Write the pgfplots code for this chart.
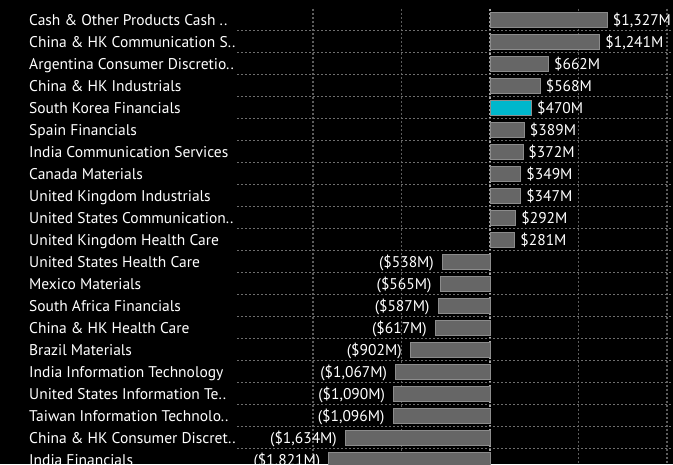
\documentclass[border=0pt]{standalone}
\usepackage{pgfplots}
\pgfplotsset{compat=1.18}
\usepackage{fontspec}
\setmainfont{PT Sans}
\definecolor{barfill}{HTML}{666666}
\definecolor{baredge}{HTML}{8C8C8C}
\definecolor{hl}{HTML}{00B7CC}
\definecolor{gridc}{HTML}{5C5C5C}
\definecolor{hgridc}{HTML}{6E6E6E}
\definecolor{zeroc}{HTML}{A8A8A8}
\newcommand\lblfont{\fontsize{15.5}{18}\selectfont}
\tikzset{hg/.style={hgridc, dash pattern=on 2pt off 2pt, line width=1.8pt}}
\begin{document}
\lblfont
\begin{tikzpicture}[x=1pt,y=1pt]
\fill[black] (0,0) rectangle (673,-464);
\path[use as bounding box] (0,0) rectangle (673,-464);
\begin{axis}[
  at={(237pt,-470.5pt)}, anchor=south west,
  scale only axis, width=436pt, height=462pt,
  xmin=-2859, xmax=2068, ymin=-0.5, ymax=20.5, y dir=reverse,
  xbar, bar width=15pt, bar shift=0pt,
  axis line style={draw=none}, major tick length=0pt, minor tick length=0pt,
  xtick={-2000,-1000,1000,2000}, xticklabels={},
  xmajorgrids, major grid style={gridc, dash pattern=on 2pt off 2pt, line width=1.2pt},
  extra x ticks={0}, extra x tick labels={},
  extra x tick style={major grid style={zeroc, dash pattern=on 2pt off 2pt, line width=1.2pt}},
  ytick={0,1,2,3,4,5,6,7,8,9,10,11,12,13,14,15,16,17,18,19,20},
  yticklabels={Cash \& Other Products Cash ..,China \& HK Communication S..,Argentina Consumer Discretio..,China \& HK Industrials,South Korea Financials,Spain Financials,India Communication Services,Canada Materials,United Kingdom Industrials,United States Communication..,United Kingdom Health Care,United States Health Care,Mexico Materials,South Africa Financials,China \& HK Health Care,Brazil Materials,India Information Technology,United States Information Te..,Taiwan Information Technolo..,China \& HK Consumer Discret..,India Financials},
  yticklabel style={anchor=west, inner sep=0pt, xshift=-208pt, yshift=-0.5pt, text height=11pt, text depth=0pt, text=white, font=\lblfont},
  point meta=explicit symbolic,
  nodes near coords,
  every node near coord/.append style={text=white, font=\lblfont, text height=11pt, text depth=0pt, yshift=-0.5pt},
]
\draw[hg] (axis cs:-2859,0.5) -- (axis cs:2068,0.5);
\draw[hg] (axis cs:-2859,1.5) -- (axis cs:2068,1.5);
\draw[hg] (axis cs:-2859,2.5) -- (axis cs:2068,2.5);
\draw[hg] (axis cs:-2859,3.5) -- (axis cs:2068,3.5);
\draw[hg] (axis cs:-2859,4.5) -- (axis cs:2068,4.5);
\draw[hg] (axis cs:-2859,5.5) -- (axis cs:2068,5.5);
\draw[hg] (axis cs:-2859,6.5) -- (axis cs:2068,6.5);
\draw[hg] (axis cs:-2859,7.5) -- (axis cs:2068,7.5);
\draw[hg] (axis cs:-2859,8.5) -- (axis cs:2068,8.5);
\draw[hg] (axis cs:-2859,9.5) -- (axis cs:2068,9.5);
\draw[hg] (axis cs:-2859,10.5) -- (axis cs:2068,10.5);
\draw[hg] (axis cs:-2859,11.5) -- (axis cs:2068,11.5);
\draw[hg] (axis cs:-2859,12.5) -- (axis cs:2068,12.5);
\draw[hg] (axis cs:-2859,13.5) -- (axis cs:2068,13.5);
\draw[hg] (axis cs:-2859,14.5) -- (axis cs:2068,14.5);
\draw[hg] (axis cs:-2859,15.5) -- (axis cs:2068,15.5);
\draw[hg] (axis cs:-2859,16.5) -- (axis cs:2068,16.5);
\draw[hg] (axis cs:-2859,17.5) -- (axis cs:2068,17.5);
\draw[hg] (axis cs:-2859,18.5) -- (axis cs:2068,18.5);
\draw[hg] (axis cs:-2859,19.5) -- (axis cs:2068,19.5);
\addplot[xbar, bar shift=0pt, fill=barfill, draw=baredge, line width=0.8pt,
  every node near coord/.append style={anchor=west}]
  coordinates {(1327,0) [{\$1,327M}] (1241,1) [{\$1,241M}] (662,2) [{\$662M}] (568,3) [{\$568M}]
  (389,5) [{\$389M}] (372,6) [{\$372M}] (349,7) [{\$349M}] (347,8) [{\$347M}] (292,9) [{\$292M}] (281,10) [{\$281M}]};
\addplot[xbar, bar shift=0pt, fill=hl, draw=baredge, line width=0.8pt,
  every node near coord/.append style={anchor=west}]
  coordinates {(470,4) [{\$470M}]};
\addplot[xbar, bar shift=0pt, fill=barfill, draw=baredge, line width=0.8pt,
  every node near coord/.append style={anchor=east, xshift=-3pt}]
  coordinates {(-538,11) [{(\$538M)}] (-565,12) [{(\$565M)}] (-587,13) [{(\$587M)}] (-617,14) [{(\$617M)}]
  (-902,15) [{(\$902M)}] (-1067,16) [{(\$1,067M)}] (-1090,17) [{(\$1,090M)}] (-1096,18) [{(\$1,096M)}]
  (-1634,19) [{(\$1,634M)}] (-1821,20) [{(\$1,821M)}]};
\end{axis}
\end{tikzpicture}
\end{document}
